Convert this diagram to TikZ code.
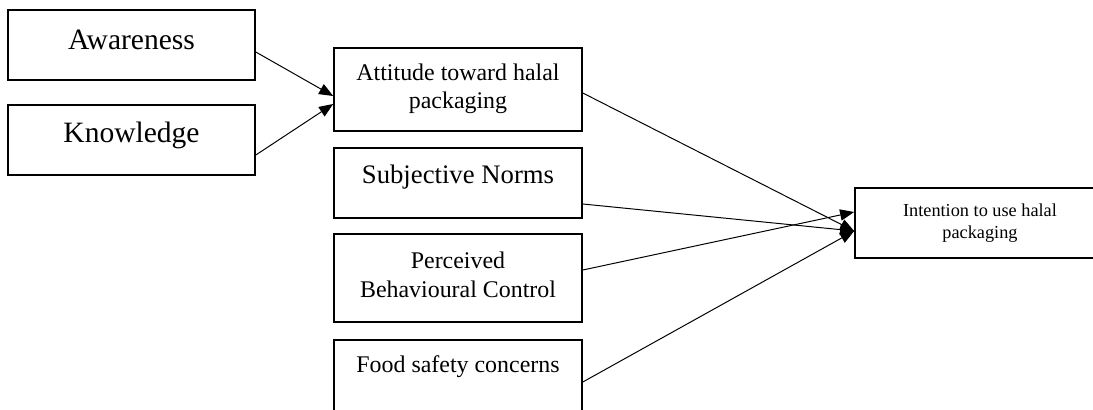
\documentclass[tikz,border=0pt]{standalone}
\usepackage{fontspec}
\setmainfont{Liberation Serif}
\usepackage{tikz}
\usetikzlibrary{arrows.meta}
\tikzset{>={Triangle[length=10pt,width=8pt]}}
\tikzstyle{box} = [draw, line width=1.1pt, inner sep=0pt]
\tikzstyle{txt} = [align=center, inner sep=0pt]
\tikzstyle{arr} = [->, line width=0.7pt]

\begin{document}
\begin{tikzpicture}[x=0.025cm,y=-0.025cm]
    \clip (0,0) rectangle (1093,409);
    %boxes
    \node[box, minimum width=6.175cm, minimum height=1.75cm] (aware) at (131.5,45) {};
    \node[box, minimum width=6.175cm, minimum height=1.75cm] (know) at (131.5,140) {};
    \node[box, minimum width=6.2cm, minimum height=2.075cm] (att) at (458,89.5) {};
    \node[box, minimum width=6.2cm, minimum height=1.75cm] (subj) at (458,183) {};
    \node[box, minimum width=6.2cm, minimum height=2.2cm] (pbc) at (458,278) {};
    \node[box, minimum width=6.2cm, minimum height=2.25cm] (food) at (458,385) {};
    \node[box, minimum width=6.25cm, minimum height=1.75cm] (intent) at (980,223) {};
    %labels
    \node[txt, font=\fontsize{21}{25}\selectfont] (awaretxt) at (131.5,40) {Awareness};
    \node[txt, font=\fontsize{21}{25}\selectfont] (knowtxt) at (131.5,135) {Knowledge};
    \node[txt, font=\fontsize{17}{20}\selectfont] (atttxt) at (458,89) {Attitude toward halal\\packaging};
    \node[txt, font=\fontsize{19}{22}\selectfont] (subjtxt) at (458,177) {Subjective Norms};
    \node[txt, font=\fontsize{17}{21}\selectfont] (pbctxt) at (458,275) {Perceived\\Behavioural Control};
    \node[txt, font=\fontsize{17}{20}\selectfont] (foodtxt) at (458,367) {Food safety concerns};
    \node[txt, font=\fontsize{13}{16}\selectfont] (intenttxt) at (980,223) {Intention to use halal\\packaging};
    %arrows
    \draw[arr] ([yshift=-0.175cm]aware.east) -- ([yshift=-0.1625cm]att.west);
    \draw[arr] ([yshift=-0.375cm]know.east) -- ([yshift=-0.3625cm]att.west);
    \draw[arr] ([yshift=-0.0875cm]att.east) -- ([yshift=-0.2cm]intent.west);
    \draw[arr] ([yshift=-0.525cm]subj.east) -- ([yshift=-0.2cm]intent.west);
    \draw[arr] ([yshift=0.2cm]pbc.east) -- ([yshift=0.275cm]intent.west);
    \draw[arr] ([yshift=0.075cm]food.east) -- ([yshift=-0.2cm]intent.west);
\end{tikzpicture}
\end{document}
